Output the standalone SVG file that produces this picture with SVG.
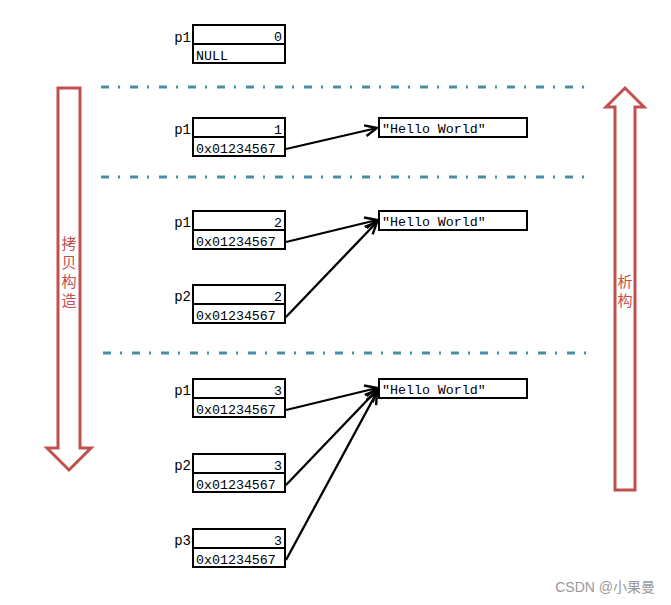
<svg xmlns="http://www.w3.org/2000/svg" width="671" height="605" viewBox="0 0 671 605">
<style>
.box{fill:#fff;stroke:#000;stroke-width:2}
.div{stroke:#000;stroke-width:2}
.t{font-family:"Liberation Mono",monospace;font-size:13.3px;fill:#000}
.r{text-anchor:end}
.lbl{font-family:"Liberation Mono",monospace;font-size:14px;fill:#000;text-anchor:end}
.sep{stroke:#31849b;stroke-width:3;stroke-dasharray:8 9 2 10;fill:none;opacity:0.9}
.big{fill:#fff;stroke:#c0504d;stroke-width:3;stroke-linejoin:miter}
.cn{font-family:"Noto Sans CJK SC",sans-serif;font-size:15px;fill:#c0504d;text-anchor:middle}
.con{stroke:#000;stroke-width:2.3;fill:none;marker-end:url(#ah)}
</style>
<defs>
<marker id="ah" viewBox="0 0 14 14" refX="13" refY="7" markerWidth="14" markerHeight="14" markerUnits="userSpaceOnUse" orient="auto">
<path d="M1,1.5 L13,7 L1,12.5" fill="none" stroke="#000" stroke-width="2.4"/>
</marker>
</defs>
<rect width="671" height="605" fill="#fff"/>

<g id="separators">
<line class="sep" x1="101" y1="87" x2="594" y2="87"/>
<line class="sep" x1="101" y1="177" x2="594" y2="177"/>
<line class="sep" x1="103" y1="353" x2="594" y2="353"/>
</g>

<g id="copy-arrow">
<path class="big" d="M58,88 H80 V448 H91 L69,470 L47,448 H58 Z"/>
<text class="cn" x="69" y="249">拷</text>
<text class="cn" x="69" y="268">贝</text>
<text class="cn" x="69" y="287">构</text>
<text class="cn" x="69" y="306">造</text>
</g>

<g id="destruct-arrow">
<path class="big" d="M615,490 H635 V107 H644 L625,88 L606,107 H615 Z"/>
<text class="cn" x="625" y="287">析</text>
<text class="cn" x="625" y="306">构</text>
</g>

<g id="s0-p1">
<text class="lbl" x="191" y="42">p1</text>
<rect class="box" x="193" y="25" width="92" height="38"/>
<line class="div" x1="193" y1="44" x2="285" y2="44"/>
<text class="t r" x="282" y="41">0</text>
<text class="t" x="196" y="60">NULL</text>
</g>

<g id="s1-p1">
<text class="lbl" x="191" y="134">p1</text>
<rect class="box" x="193" y="118" width="92" height="38"/>
<line class="div" x1="193" y1="137" x2="285" y2="137"/>
<text class="t r" x="282" y="134">1</text>
<text class="t" x="196" y="153">0x01234567</text>
</g>
<g id="s1-str">
<rect class="box" x="379" y="118" width="148" height="19"/>
<text class="t" x="382" y="133">"Hello World"</text>
</g>

<g id="s2-p1">
<text class="lbl" x="191" y="227">p1</text>
<rect class="box" x="193" y="211" width="92" height="38"/>
<line class="div" x1="193" y1="230" x2="285" y2="230"/>
<text class="t r" x="282" y="227">2</text>
<text class="t" x="196" y="246">0x01234567</text>
</g>
<g id="s2-p2">
<text class="lbl" x="191" y="301">p2</text>
<rect class="box" x="193" y="285" width="92" height="38"/>
<line class="div" x1="193" y1="304" x2="285" y2="304"/>
<text class="t r" x="282" y="301">2</text>
<text class="t" x="196" y="320">0x01234567</text>
</g>
<g id="s2-str">
<rect class="box" x="379" y="211" width="148" height="19"/>
<text class="t" x="382" y="226">"Hello World"</text>
</g>

<g id="s3-p1">
<text class="lbl" x="191" y="395">p1</text>
<rect class="box" x="193" y="379" width="92" height="38"/>
<line class="div" x1="193" y1="398" x2="285" y2="398"/>
<text class="t r" x="282" y="395">3</text>
<text class="t" x="196" y="414">0x01234567</text>
</g>
<g id="s3-p2">
<text class="lbl" x="191" y="470">p2</text>
<rect class="box" x="193" y="454" width="92" height="38"/>
<line class="div" x1="193" y1="473" x2="285" y2="473"/>
<text class="t r" x="282" y="470">3</text>
<text class="t" x="196" y="489">0x01234567</text>
</g>
<g id="s3-p3">
<text class="lbl" x="191" y="545">p3</text>
<rect class="box" x="193" y="529" width="92" height="38"/>
<line class="div" x1="193" y1="548" x2="285" y2="548"/>
<text class="t r" x="282" y="545">3</text>
<text class="t" x="196" y="564">0x01234567</text>
</g>
<g id="s3-str">
<rect class="box" x="379" y="379" width="148" height="19"/>
<text class="t" x="382" y="394">"Hello World"</text>
</g>

<g id="connectors">
<line class="con" x1="286" y1="149" x2="377" y2="128"/>
<line class="con" x1="286" y1="242" x2="377" y2="220"/>
<line class="con" x1="286" y1="317" x2="377" y2="222"/>
<line class="con" x1="286" y1="410" x2="377" y2="388"/>
<line class="con" x1="286" y1="485" x2="377" y2="390"/>
<line class="con" x1="286" y1="560" x2="377" y2="392"/>
</g>

<text x="655" y="592" font-family="Liberation Sans, Noto Sans CJK SC, sans-serif" font-size="14" fill="#999" text-anchor="end">CSDN @小果曼</text>
</svg>
